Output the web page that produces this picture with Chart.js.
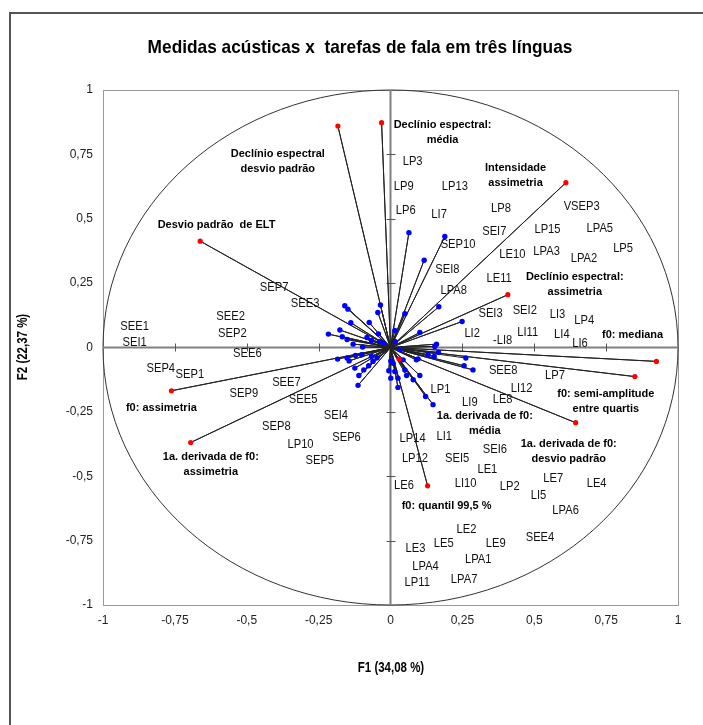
<!DOCTYPE html>
<html>
<head>
<meta charset="utf-8">
<script src="https://cdn.jsdelivr.net/npm/chart.js@4.4.1/dist/chart.umd.min.js"></script>
<style>
  body { margin: 0; background: #fff; }
  canvas { display: block; }
</style>
</head>
<body>
<canvas id="biplot" width="703" height="725"></canvas>
<script>
// Tick labels (comma decimals, as in the original)
const tickLabels = ['-1', '-0,75', '-0,5', '-0,25', '0', '0,25', '0,5', '0,75', '1'];

// Observations (blue points) - F1 / F2 coordinates
const obsF1 = [0.064, 0.189, 0.117, 0.168, 0.050, 0.249, 0.102, 0.015, 0.017, 0.160, 0.154,
  -0.159, -0.148, -0.035, -0.044, -0.138, -0.074, -0.216, -0.176, -0.168, -0.151, -0.082,
  -0.042, -0.066, -0.130, -0.097, -0.037, -0.023, -0.184, -0.151, -0.144, -0.122, -0.101,
  -0.066, -0.061, -0.047, -0.124, -0.093, -0.076, -0.110, -0.113, 0.001, 0.009, -0.006,
  0.015, 0.001, 0.026, 0.050, 0.056, 0.044, 0.090, 0.079, 0.026, 0.122, 0.148, 0.131,
  0.152, 0.256, 0.287, 0.167, 0.033, 0.096, 0.102, 0.262];
const obsF2 = [0.446, 0.431, 0.339, 0.158, 0.131, 0.101, 0.058, 0.066, 0.023, 0.013, 0.004,
  0.162, 0.149, 0.165, 0.136, 0.096, 0.097, 0.052, 0.068, 0.042, 0.031, 0.039,
  0.053, 0.027, 0.013, 0.002, 0.023, 0.017, -0.045, -0.041, -0.052, -0.031, -0.028,
  -0.035, -0.054, -0.040, -0.080, -0.087, -0.071, -0.109, -0.147, -0.052, -0.061, -0.090,
  -0.093, -0.119, -0.119, -0.087, -0.109, -0.048, -0.048, -0.125, -0.155, -0.190, -0.222, -0.028,
  -0.035, -0.071, -0.087, -0.019, -0.009, -0.044, -0.109, -0.041];

// Observation labels and where they sit (in F1 / F2 units)
const obsLabels = ['SEE1', 'SEI1', 'SEE2', 'SEP2', 'SEE6', 'SEP7', 'SEE3', 'SEP4', 'SEP1', 'SEP9',
  'SEE7', 'SEE5', 'SEI4', 'SEP8', 'SEP6', 'LP10', 'SEP5',
  'LP3', 'LP9', 'LP13', 'LP6', 'LI7', 'LP8', 'SEI7', 'SEP10', 'SEI8', 'LPA8', 'LE10', 'LE11',
  'LP15', 'LPA3', 'VSEP3', 'LPA5', 'LPA2', 'LP5', 'SEI3', 'SEI2', 'LI3', 'LP4', 'LI2', '-LI8',
  'LI11', 'LI4', 'LI6',
  'SEE8', 'LP7', 'LI12', 'LP1', 'LI9', 'LE8', 'LP14', 'LI1', 'SEI6', 'LP12', 'SEI5', 'LE1',
  'LE6', 'LI10', 'LP2', 'LE7', 'LI5', 'LE4', 'LPA6', 'LE2', 'SEE4', 'LE5', 'LE9', 'LE3',
  'LPA1', 'LPA4', 'LPA7', 'LP11'];
const obsLabelF1 = [-0.890, -0.890, -0.556, -0.550, -0.498, -0.405, -0.297, -0.799, -0.698, -0.510,
  -0.362, -0.304, -0.190, -0.397, -0.153, -0.313, -0.246,
  0.077, 0.046, 0.224, 0.053, 0.169, 0.384, 0.361, 0.235, 0.198, 0.220, 0.424, 0.378,
  0.546, 0.543, 0.665, 0.728, 0.673, 0.809, 0.348, 0.467, 0.581, 0.674, 0.284, 0.390,
  0.477, 0.596, 0.659,
  0.392, 0.572, 0.456, 0.174, 0.276, 0.390, 0.077, 0.187, 0.363, 0.085, 0.232, 0.337,
  0.047, 0.261, 0.415, 0.566, 0.515, 0.717, 0.609, 0.264, 0.520, 0.185, 0.366, 0.087,
  0.305, 0.122, 0.256, 0.093];
const obsLabelF2 = [0.080, 0.018, 0.120, 0.056, -0.024, 0.234, 0.170, -0.080, -0.106, -0.177,
  -0.136, -0.203, -0.262, -0.307, -0.349, -0.378, -0.440,
  0.724, 0.627, 0.625, 0.534, 0.515, 0.541, 0.450, 0.399, 0.304, 0.221, 0.362, 0.267,
  0.457, 0.373, 0.547, 0.461, 0.344, 0.383, 0.133, 0.144, 0.130, 0.107, 0.056, 0.027,
  0.060, 0.049, 0.017,
  -0.090, -0.110, -0.158, -0.164, -0.213, -0.203, -0.352, -0.345, -0.397, -0.432, -0.432, -0.475,
  -0.537, -0.526, -0.539, -0.510, -0.574, -0.529, -0.634, -0.705, -0.736, -0.762, -0.759, -0.782,
  -0.824, -0.852, -0.901, -0.914];

// Variables (red points) - correlations with F1 / F2
const varNames = [
  ['Declínio espectral', 'desvio padrão'],
  ['Declínio espectral:', 'média'],
  ['Desvio padrão  de ELT'],
  ['Intensidade', 'assimetria'],
  ['Declínio espectral:', 'assimetria'],
  ['f0: mediana'],
  ['f0: semi-amplitude', 'entre quartis'],
  ['1a. derivada de f0:', 'desvio padrão'],
  ['f0: quantil 99,5 %'],
  ['f0: assimetria'],
  ['1a. derivada de f0:', 'assimetria'],
  ['1a. derivada de f0:', 'média']
];
const varF1 = [-0.183, -0.031, -0.662, 0.610, 0.408, 0.925, 0.850, 0.644, 0.129, -0.762, -0.695, 0.030];
const varF2 = [0.860, 0.873, 0.413, 0.640, 0.205, -0.054, -0.113, -0.292, -0.537, -0.168, -0.369, -0.045];
const varLabelF1 = [-0.392, 0.181, -0.605, 0.435, 0.641, 0.842, 0.749, 0.620, 0.195, -0.797, -0.625, 0.328];
const varLabelF2 = [0.752, 0.864, 0.476, 0.698, 0.273, 0.049, -0.180, -0.375, -0.617, -0.235, -0.425, -0.265];

const FONT = "'Liberation Sans', Arial, sans-serif";

// rays from the origin: origin, point, origin, point, ...
function rays(f1, f2) {
    const out = [];
    for (let i = 0; i < f1.length; i++) {
        out.push({ x: 0, y: 0 });
        out.push({ x: f1[i], y: f2[i] });
    }
    return out;
}
function points(f1, f2) {
    return f1.map((v, i) => ({ x: v, y: f2[i] }));
}

// the original uses a condensed face, so squeeze text horizontally
function narrowText(ctx, txt, x, y, sx) {
    ctx.save();
    ctx.translate(x, y);
    ctx.scale(sx, 1);
    ctx.fillText(txt, 0, 0);
    ctx.restore();
}

const biplotPlugin = {
    id: 'biplot',
    beforeDraw(chart) {
        const ctx = chart.ctx;
        ctx.save();
        ctx.fillStyle = '#fff';
        ctx.fillRect(0, 0, chart.width, chart.height);
        // outer frame (only left and top edges are inside the picture)
        ctx.strokeStyle = '#555';
        ctx.lineWidth = 2;
        ctx.beginPath();
        ctx.moveTo(10, chart.height + 5);
        ctx.lineTo(10, 13);
        ctx.lineTo(chart.width + 5, 13);
        ctx.stroke();
        ctx.restore();
    },
    beforeDatasetsDraw(chart) {
        const { ctx, chartArea: a, scales: { x, y } } = chart;
        const x0 = x.getPixelForValue(0);
        const y0 = y.getPixelForValue(0);
        ctx.save();
        // plot area border
        ctx.strokeStyle = '#9a9a9a';
        ctx.lineWidth = 1;
        ctx.strokeRect(a.left + 0.5, a.top + 0.5, a.width, a.height);
        // unit circle
        ctx.strokeStyle = '#333';
        ctx.beginPath();
        ctx.ellipse(x0, y0, x.getPixelForValue(1) - x0, y0 - y.getPixelForValue(1), 0, 0, 2 * Math.PI);
        ctx.stroke();
        // zero axes
        ctx.strokeStyle = '#808080';
        ctx.lineWidth = 2;
        ctx.beginPath();
        ctx.moveTo(a.left, y0); ctx.lineTo(a.right, y0);
        ctx.moveTo(x0, a.top); ctx.lineTo(x0, a.bottom);
        ctx.stroke();
        // tick marks crossing the zero axes
        ctx.lineWidth = 1;
        ctx.strokeStyle = '#555';
        ctx.beginPath();
        x.ticks.forEach(t => {
            if (Math.abs(t.value) < 1e-9 || Math.abs(t.value) > 0.99) return;
            const px = Math.round(x.getPixelForValue(t.value)) + 0.5;
            ctx.moveTo(px, y0 - 4); ctx.lineTo(px, y0 + 4);
        });
        y.ticks.forEach(t => {
            if (Math.abs(t.value) < 1e-9 || Math.abs(t.value) > 0.99) return;
            const py = Math.round(y.getPixelForValue(t.value)) + 0.5;
            ctx.moveTo(x0 - 4, py); ctx.lineTo(x0 + 5, py);
        });
        ctx.stroke();
        ctx.restore();
    },
    afterDatasetsDraw(chart) {
        const { ctx, scales: { x, y } } = chart;
        ctx.save();
        ctx.textAlign = 'center';
        ctx.textBaseline = 'middle';
        ctx.fillStyle = '#111';
        // observation labels
        ctx.font = '13px ' + FONT;
        obsLabels.forEach((txt, i) => {
            narrowText(ctx, txt, x.getPixelForValue(obsLabelF1[i]), y.getPixelForValue(obsLabelF2[i]), 0.86);
        });
        // variable labels
        ctx.font = 'bold 11px ' + FONT;
        ctx.fillStyle = '#000';
        varNames.forEach((lines, i) => {
            const px = x.getPixelForValue(varLabelF1[i]);
            const py = y.getPixelForValue(varLabelF2[i]);
            lines.forEach((ln, j) => ctx.fillText(ln, px, py + j * 15));
        });
        ctx.restore();
    },
    afterDraw(chart) {
        const ctx = chart.ctx;
        ctx.save();
        ctx.fillStyle = '#000';
        ctx.textAlign = 'center';
        ctx.textBaseline = 'middle';
        ctx.font = 'bold 19px ' + FONT;
        narrowText(ctx, 'Medidas acústicas x  tarefas de fala em três línguas', 360, 48, 0.91);
        ctx.font = 'bold 14px ' + FONT;
        narrowText(ctx, 'F1 (34,08 %)', 391, 668, 0.82);
        ctx.translate(23, 347);
        ctx.rotate(-Math.PI / 2);
        narrowText(ctx, 'F2 (22,37 %)', 0, 0, 0.82);
        ctx.restore();
    }
};

const axisTicks = {
    stepSize: 0.25,
    color: '#222',
    font: { family: FONT, size: 12 },
    callback: (value, index) => tickLabels[index]
};

new Chart(document.getElementById('biplot').getContext('2d'), {
    type: 'scatter',
    data: {
        datasets: [
            {
                label: 'var rays',
                data: rays(varF1, varF2),
                showLine: true,
                borderColor: '#222',
                borderWidth: 1,
                pointRadius: 0,
                order: 3
            },
            {
                label: 'obs rays',
                data: rays(obsF1, obsF2),
                showLine: true,
                borderColor: '#222',
                borderWidth: 1,
                pointRadius: 0,
                order: 3
            },
            {
                label: 'observations',
                data: points(obsF1, obsF2),
                backgroundColor: '#0000ff',
                borderWidth: 0,
                pointRadius: 2.7,
                order: 2
            },
            {
                label: 'variables',
                data: points(varF1, varF2),
                backgroundColor: '#ff0000',
                borderWidth: 0,
                pointRadius: 2.6,
                order: 1
            }
        ]
    },
    options: {
        responsive: false,
        animation: false,
        layout: { padding: { top: 90, right: 25, left: 0, bottom: 0 } },
        plugins: {
            legend: { display: false },
            tooltip: { enabled: false }
        },
        scales: {
            x: {
                type: 'linear',
                min: -1,
                max: 1,
                grid: { display: false, drawTicks: false },
                border: { display: false },
                ticks: Object.assign({ padding: 8, maxRotation: 0 }, axisTicks),
                afterFit: s => { s.height = 120; }
            },
            y: {
                type: 'linear',
                min: -1,
                max: 1,
                grid: { display: false, drawTicks: false },
                border: { display: false },
                ticks: Object.assign({ padding: 10 }, axisTicks),
                afterFit: s => { s.width = 103; }
            }
        }
    },
    plugins: [biplotPlugin]
});
</script>
</body>
</html>
